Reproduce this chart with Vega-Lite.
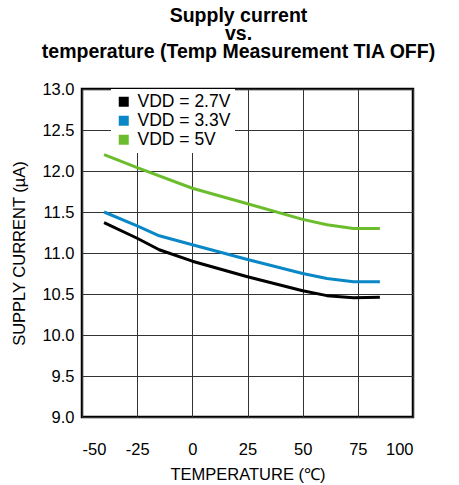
{
  "$schema": "https://vega.github.io/schema/vega-lite/v6.json",
  "width": 331,
  "height": 328,
  "autosize": "none",
  "padding": {"left": 82, "top": 89, "right": 46, "bottom": 68},
  "background": "white",
  "title": {
    "text": ["Supply current", "vs.", "temperature (Temp Measurement TIA OFF)"],
    "font": "Liberation Sans",
    "fontSize": 19.5,
    "fontWeight": "bold",
    "lineHeight": 18,
    "anchor": "middle",
    "dx": -9,
    "offset": 19,
    "color": "black"
  },
  "config": {
    "view": {"stroke": "black", "strokeWidth": 2.5},
    "font": "Liberation Sans"
  },
  "data": {
    "values": [
      {"t": -40, "v": 11.37, "s": "VDD = 2.7V"},
      {"t": -25, "v": 11.18, "s": "VDD = 2.7V"},
      {"t": -15, "v": 11.04, "s": "VDD = 2.7V"},
      {"t": 0, "v": 10.9, "s": "VDD = 2.7V"},
      {"t": 25, "v": 10.71, "s": "VDD = 2.7V"},
      {"t": 50, "v": 10.54, "s": "VDD = 2.7V"},
      {"t": 61, "v": 10.48, "s": "VDD = 2.7V"},
      {"t": 73, "v": 10.455, "s": "VDD = 2.7V"},
      {"t": 85, "v": 10.46, "s": "VDD = 2.7V"},
      {"t": -40, "v": 11.5, "s": "VDD = 3.3V"},
      {"t": -25, "v": 11.33, "s": "VDD = 3.3V"},
      {"t": -15, "v": 11.21, "s": "VDD = 3.3V"},
      {"t": 0, "v": 11.1, "s": "VDD = 3.3V"},
      {"t": 25, "v": 10.92, "s": "VDD = 3.3V"},
      {"t": 50, "v": 10.75, "s": "VDD = 3.3V"},
      {"t": 61, "v": 10.69, "s": "VDD = 3.3V"},
      {"t": 73, "v": 10.65, "s": "VDD = 3.3V"},
      {"t": 85, "v": 10.65, "s": "VDD = 3.3V"},
      {"t": -40, "v": 12.2, "s": "VDD = 5V"},
      {"t": -25, "v": 12.04, "s": "VDD = 5V"},
      {"t": 0, "v": 11.79, "s": "VDD = 5V"},
      {"t": 25, "v": 11.6, "s": "VDD = 5V"},
      {"t": 50, "v": 11.41, "s": "VDD = 5V"},
      {"t": 61, "v": 11.345, "s": "VDD = 5V"},
      {"t": 73, "v": 11.3, "s": "VDD = 5V"},
      {"t": 85, "v": 11.3, "s": "VDD = 5V"}
    ]
  },
  "mark": {"type": "line", "strokeWidth": 3, "interpolate": "linear", "strokeJoin": "round"},
  "encoding": {
    "x": {
      "field": "t", "type": "quantitative",
      "scale": {"domain": [-50, 100], "nice": false},
      "axis": {
        "values": [-50, -25, 0, 25, 50, 75, 100],
        "labelExpr": "datum.value < 0 ? '-' + abs(datum.value) : '' + datum.value",
        "title": "TEMPERATURE (℃)",
        "titleFont": "Liberation Sans", "titleFontSize": 16.5, "titleFontWeight": "normal", "titleColor": "black",
        "titlePadding": 9,
        "labelFont": "Liberation Sans", "labelFontSize": 16.5, "labelColor": "black", "labelPadding": 24,
        "ticks": false, "domain": false,
        "grid": true, "gridColor": "#333333", "gridWidth": 1, "gridOpacity": 1
      }
    },
    "y": {
      "field": "v", "type": "quantitative",
      "scale": {"domain": [9, 13], "nice": false, "zero": false},
      "axis": {
        "values": [9, 9.5, 10, 10.5, 11, 11.5, 12, 12.5, 13],
        "format": ".1f",
        "title": "SUPPLY CURRENT (µA)",
        "titleFont": "Liberation Sans", "titleFontSize": 16.5, "titleFontWeight": "normal", "titleColor": "black",
        "titlePadding": 14,
        "labelFont": "Liberation Sans", "labelFontSize": 16.5, "labelColor": "black", "labelPadding": 8,
        "ticks": false, "domain": false,
        "grid": true, "gridColor": "#333333", "gridWidth": 1, "gridOpacity": 1
      }
    },
    "color": {
      "field": "s", "type": "nominal",
      "scale": {"domain": ["VDD = 2.7V", "VDD = 3.3V", "VDD = 5V"], "range": ["#000000", "#0a87c6", "#6cbd2e"]},
      "legend": {
        "title": null,
        "orient": "none",
        "legendX": 29,
        "legendY": 0,
        "fillColor": "white",
        "padding": 4,
        "symbolType": "square",
        "symbolSize": 100,
        "symbolStrokeWidth": 0,
        "labelFont": "Liberation Sans",
        "labelFontSize": 17.5,
        "labelColor": "black",
        "labelOffset": 5,
        "rowPadding": 0,
        "encode": {"symbols": {"update": {"fill": {"scale": "color", "field": "value"}, "strokeWidth": {"value": 0}}}}
      }
    }
  }
}
